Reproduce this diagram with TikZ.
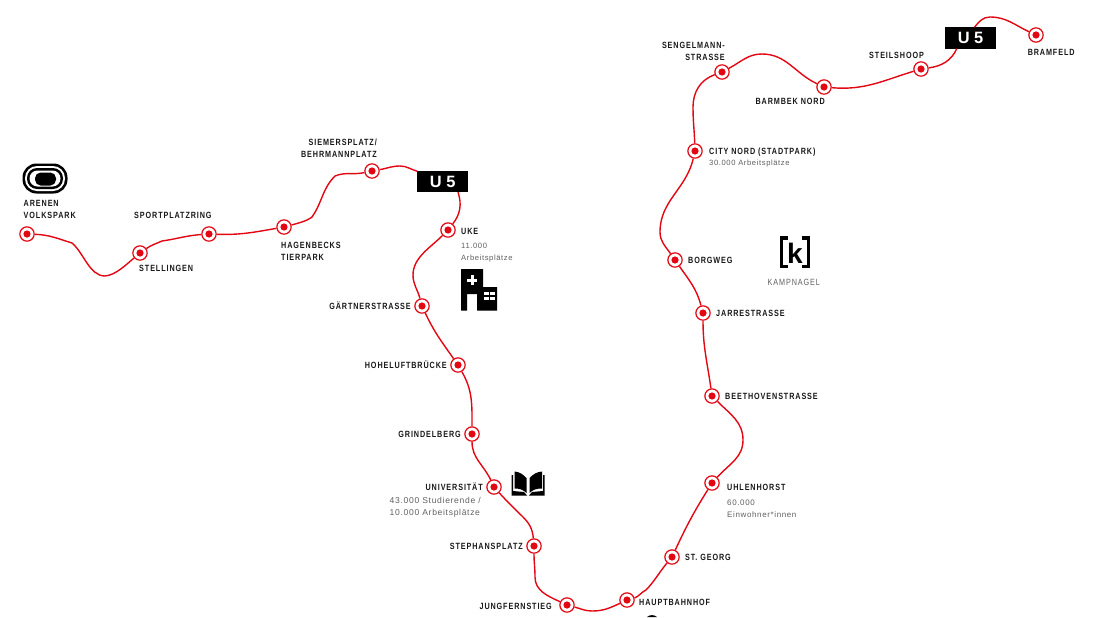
\documentclass[tikz,border=0pt]{standalone}
\usepackage{xcolor}
\usepackage{fontspec}
\setmainfont{Liberation Sans}
\newfontfamily\stationfont[LetterSpace=10,FakeStretch=0.8]{Liberation Sans}
\newfontfamily\notefont[LetterSpace=8]{Liberation Sans}
\usetikzlibrary{shapes.geometric,positioning,calc}
\definecolor{linered}{RGB}{227,6,19}
\definecolor{notegray}{RGB}{95,95,95}
\tikzset{y=-.03cm}
\tikzset{x=.03cm}
\tikzset{uline/.style={draw=linered,line width=.42mm}}
\tikzset{station/.style={circle,draw=linered,fill=white,line width=.36mm,inner sep=0pt,minimum size=.43cm,
  path picture={\fill[linered] (path picture bounding box.center) circle (.108cm);}}}
\tikzset{badge/.style={fill=black,text=white,inner sep=0pt,minimum width=1.52cm,minimum height=.63cm,
  font=\fontsize{14}{14}\selectfont\bfseries}}
\tikzstyle{stopname}=[inner sep=0pt,align=left,font=\fontsize{7.7}{10.2}\stationfont\bfseries,text=black!90]
\tikzstyle{stopnote}=[inner sep=0pt,align=left,font=\fontsize{6.5}{10.2}\notefont,text=notegray]
\begin{document}
\begin{tikzpicture}
  \useasboundingbox (0,0) rectangle (1098,617);
  %% Stations
  \draw (27,234) node[station] (P1) {};
  \draw (140,253) node[station] (P2) {};
  \draw (209,234) node[station] (P3) {};
  \draw (284,227) node[station] (P4) {};
  \draw (372,171) node[station] (P5) {};
  \draw (448,230) node[station] (P6) {};
  \draw (422,306) node[station] (P7) {};
  \draw (458,365) node[station] (P8) {};
  \draw (472,434) node[station] (P9) {};
  \draw (494,487) node[station] (P10) {};
  \draw (534,546) node[station] (P11) {};
  \draw (567,605) node[station] (P12) {};
  \draw (627,600) node[station] (P13) {};
  \draw (672,557) node[station] (P14) {};
  \draw (712,483) node[station] (P15) {};
  \draw (712,396) node[station] (P16) {};
  \draw (703,313) node[station] (P17) {};
  \draw (675,260) node[station] (P18) {};
  \draw (695,151) node[station] (P19) {};
  \draw (722,72) node[station] (P20) {};
  \draw (824,87) node[station] (P21) {};
  \draw (921,69) node[station] (P22) {};
  \draw (1036,35) node[station] (P23) {};

  \draw (442.7,181.5) node[badge] (U1) {U 5};
  \draw (970.5,38) node[badge] (U2) {U 5};

  %% Bends between stations
  \coordinate (W1) at (105,276);
  \coordinate (W2) at (413,275);
  \coordinate (W3) at (523,517);
  \coordinate (W4) at (535,577);
  \coordinate (W5) at (592,611);
  \coordinate (W6) at (743,440);
  \coordinate (W7) at (660,232);
  \coordinate (W8) at (693,107);
  \coordinate (W9) at (762,54);
  \coordinate (W10) at (990,17);
  \coordinate (W11) at (646,590);
  \coordinate (W12) at (312,217);
  \coordinate (W13) at (400,166);
  \coordinate (W14) at (72,243);
  \coordinate (W15) at (162,241);
  \coordinate (W16) at (335,176);

  %% The line
  \draw[uline] (P1) to[out=-2,in=163] (W14) to[out=-40,in=180,looseness=.85] (W1) to[out=5,in=-140,looseness=.8] (P2);
  \draw[uline] (P2) to[out=35,in=205] (W15) to[out=8,in=184] (P3);
  \draw[uline] (P3) to[out=-2,in=190] (P4);
  \draw[uline] (P4) to[out=15,in=-140,looseness=.7] (W12) to[out=55,in=-135] (W16) to[out=22,in=192] (P5);
  \draw[uline] (P5) to[out=10,in=180] (W13) to[out=0,in=165] (U1.158);
  \draw[uline] (U1.-35) to[out=-72,in=52] (P6);
  \draw[uline] (P6) to[out=-135,in=90,looseness=.9] (W2) to[out=-90,in=105] (P7);
  \draw[uline] (P7) to[out=-65,in=125] (P8);
  \draw[uline] (P8) to[out=-60,in=90] (P9);
  \draw[uline] (P9) to[out=-90,in=115] (P10);
  \draw[uline] (P10) to[out=-48,in=135] (W3) to[out=-45,in=95] (P11);
  \draw[uline] (P11) to[out=-90,in=90] (W4) to[out=-90,in=155] (P12);
  \draw[uline] (P12) to[out=-15,in=180] (W5) to[out=0,in=205] (P13);
  \draw[uline] (P13) to[out=15,in=200,looseness=.7] (W11) to[out=45,in=-130,looseness=.8] (P14);
  \draw[uline] (P14) to[out=65,in=-122] (P15);
  \draw[uline] (P15) to[out=48,in=-90] (W6) to[out=90,in=-45] (P16);
  \draw[uline] (P16) to[out=98,in=-90] (P17);
  \draw[uline] (P17) to[out=105,in=-55] (P18);
  \draw[uline] (P18) to[out=125,in=-90] (W7) to[out=90,in=-103] (P19);
  \draw[uline] (P19) to[out=92,in=-90] (W8) to[out=90,in=200] (P20);
  \draw[uline] (P20) to[out=28,in=180] (W9) to[out=0,in=155] (P21);
  \draw[uline] (P21) to[out=-5,in=197] (P22);
  \draw[uline] (P22) to[out=8,in=-115] (U2.218);
  \draw[uline] (U2.70) to[out=50,in=180] (W10) to[out=0,in=155] (P23);

  %% Station names
  \draw (23.5,209.5) node[stopname,anchor=west] (N1) {ARENEN\\VOLKSPARK};
  \draw (134,215.5) node[stopname,anchor=west] (N3) {SPORTPLATZRING};
  \draw (139,268) node[stopname,anchor=west] (N2) {STELLINGEN};
  \draw (281,251) node[stopname,anchor=west] (N4) {HAGENBECKS\\TIERPARK};
  \draw (377,148.5) node[stopname,anchor=east,align=right] (N5) {SIEMERSPLATZ/\\BEHRMANNPLATZ};
  \draw (461,231) node[stopname,anchor=west] (N6) {UKE};
  \draw (411,306) node[stopname,anchor=east] (N7) {GÄRTNERSTRASSE};
  \draw (447,365) node[stopname,anchor=east] (N8) {HOHELUFTBRÜCKE};
  \draw (461,434) node[stopname,anchor=east] (N9) {GRINDELBERG};
  \draw (483,487) node[stopname,anchor=east] (N10) {UNIVERSITÄT};
  \draw (523,546) node[stopname,anchor=east] (N11) {STEPHANSPLATZ};
  \draw (552,606) node[stopname,anchor=east] (N12) {JUNGFERNSTIEG};
  \draw (639,602) node[stopname,anchor=west] (N13) {HAUPTBAHNHOF};
  \draw (685,557) node[stopname,anchor=west] (N14) {ST. GEORG};
  \draw (727,487) node[stopname,anchor=west] (N15) {UHLENHORST};
  \draw (725,396) node[stopname,anchor=west] (N16) {BEETHOVENSTRASSE};
  \draw (716,313) node[stopname,anchor=west] (N17) {JARRESTRASSE};
  \draw (688,260) node[stopname,anchor=west] (N18) {BORGWEG};
  \draw (709,152) node[stopname,anchor=west] (N19) {CITY NORD (STADTPARK)};
  \draw (725,51.5) node[stopname,anchor=east,align=right] (N20) {SENGELMANN-\\STRASSE};
  \draw (825,101) node[stopname,anchor=east] (N21) {BARMBEK NORD};
  \draw (869,55.5) node[stopname,anchor=west] (N22) {STEILSHOOP};
  \draw (1027.5,52.5) node[stopname,anchor=west] (N23) {BRAMFELD};

  %% Figures under the names
  \draw (461,252.5) node[stopnote,anchor=west] (T1) {11.000\\Arbeitsplätze};
  \draw (481,507) node[stopnote,anchor=east,align=left,font=\fontsize{7.3}{10.2}\notefont] (T2) {43.000 Studierende /\\10.000 Arbeitsplätze};
  \draw (709,164) node[stopnote,anchor=west] (T3) {30.000 Arbeitsplätze};
  \draw (727,509) node[stopnote,anchor=west,font=\fontsize{6.8}{10.2}\notefont] (T4) {60.000\\Einwohner*innen};
  \draw (767.5,282) node[stopname,anchor=west,font=\fontsize{7.7}{10.2}\stationfont,text=notegray] (T5) {KAMPNAGEL};

  %% Stadium
  \fill[rounded corners=.42cm] (22.5,163.5) rectangle (67.5,193.5);
  \fill[white,rounded corners=.36cm] (25,166) rectangle (65,191);
  \fill[rounded corners=.3cm] (27,168) rectangle (63,189);
  \fill[white,rounded corners=.24cm] (29.5,170.5) rectangle (60.5,186.5);
  \fill[rounded corners=.17cm] (35,172.5) rectangle (56,185.5);

  %% Hospital
  \fill (461,269) -- (483,269) -- (483,287) -- (497,287) -- (497,310.5) -- (477,310.5)
    -- (477,294) -- (467,294) -- (467,310.5) -- (461,310.5) -- cycle;
  \fill[white] (470.5,275) rectangle (473.5,285);
  \fill[white] (467,278.5) rectangle (477,281.5);
  \foreach \wx in {483.5,489.5}
    \foreach \wy in {292,296.5}
      \fill[white] (\wx,\wy) rectangle ++(5,3);

  %% Book
  \fill (514.5,471.5) to[out=-5,in=135] (526.5,478) -- (526.5,493) to[out=135,in=0] (514.5,488.5) -- cycle;
  \fill (542,471.5) to[out=185,in=45] (529.5,478) -- (529.5,493) to[out=45,in=180] (542,488.5) -- cycle;
  \fill (511.5,475) -- (513,475) -- (513,491) -- (524,492) -- (527,495.5) -- (511.5,495.5) -- cycle;
  \fill (544.5,475) -- (543,475) -- (543,491) -- (532,492) -- (529,495.5) -- (544.5,495.5) -- cycle;

  %% Kampnagel mark
  \draw[line width=.1cm] (788,238) -- (781.5,238) -- (781.5,266.5) -- (788,266.5);
  \draw[line width=.1cm] (802,238) -- (808.5,238) -- (808.5,266.5) -- (802,266.5);
  \draw (795,253) node[inner sep=0pt,font=\fontsize{24}{24}\selectfont\bfseries] (K) {k};

  %% Top of the next figure
  \fill (647,617) to[out=40,in=140] (657,617) -- cycle;
\end{tikzpicture}
\end{document}
